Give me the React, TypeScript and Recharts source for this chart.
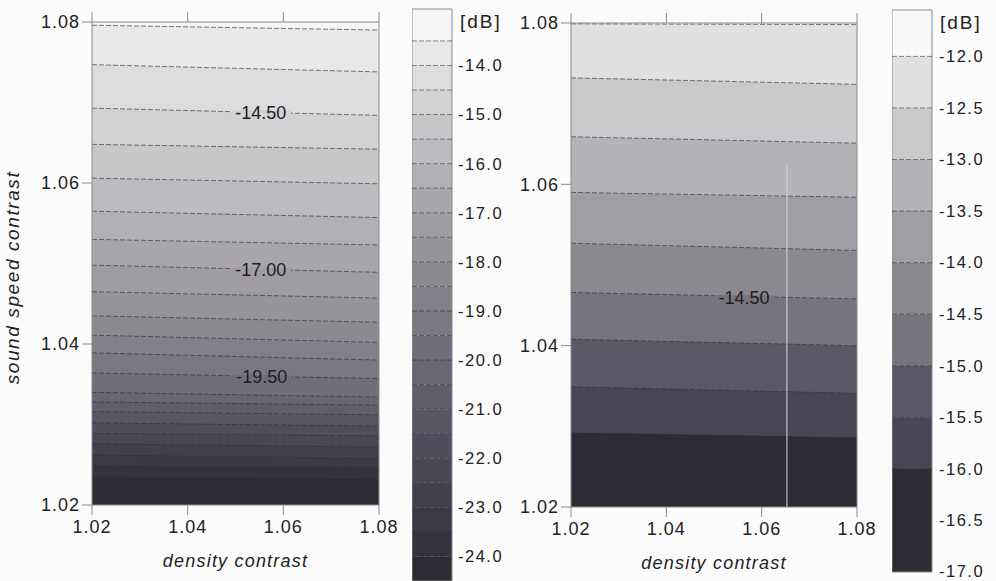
import {
  ComposedChart,
  Area,
  Scatter,
  XAxis,
  YAxis,
  CartesianGrid,
  ReferenceArea,
  ReferenceLine,
} from "recharts";

// axes of both contour panels
const densityEdges = [1.02, 1.08];
const axisTicks = [1.02, 1.04, 1.06, 1.08];

// left panel: contour levels [dB] and sound speed where each crosses the plot edges
const leftLevels = [
  -13.5, -14.0, -14.5, -15.0, -15.5, -16.0, -16.5, -17.0, -17.5, -18.0, -18.5,
  -19.0, -19.5, -20.0, -20.5, -21.0, -21.5, -22.0, -22.5, -23.0, -23.5, -24.0,
];
const leftAtLowDensity = [
  1.0796, 1.0747, 1.0693, 1.0648, 1.0606, 1.0565, 1.053, 1.0498, 1.0465, 1.0435,
  1.0411, 1.0389, 1.0364, 1.034, 1.0328, 1.0316, 1.0302, 1.0289, 1.0276, 1.0262,
  1.0248, 1.0235,
];
const leftAtHighDensity = [
  1.079, 1.0738, 1.0684, 1.0642, 1.0599, 1.0557, 1.0523, 1.0489, 1.0457, 1.0427,
  1.0402, 1.038, 1.0357, 1.0334, 1.0324, 1.0312, 1.0298, 1.0286, 1.0272, 1.0258,
  1.0246, 1.0232,
];
const leftContourLabels = [
  { density: 1.0553, speed: 1.0688, level: -14.5, text: "-14.50" },
  { density: 1.0553, speed: 1.0492, level: -17.0, text: "-17.00" },
  { density: 1.0555, speed: 1.0359, level: -19.5, text: "-19.50" },
];
const leftBarTicks = [-14, -15, -16, -17, -18, -19, -20, -21, -22, -23, -24];
const leftBarRange = [-24.5, -12.85];

// right panel
const rightLevels = [-12.0, -12.5, -13.0, -13.5, -14.0, -14.5, -15.0, -15.5, -16.0];
const rightAtLowDensity = [1.0799, 1.0732, 1.0659, 1.059, 1.0527, 1.0466, 1.0408, 1.0349, 1.0292];
const rightAtHighDensity = [1.0798, 1.0724, 1.0651, 1.0584, 1.0518, 1.0458, 1.04, 1.0341, 1.0286];
const rightContourLabels = [{ density: 1.0563, speed: 1.046, level: -14.5, text: "-14.50" }];
const rightBarTicks = [-12, -12.5, -13, -13.5, -14, -14.5, -15, -15.5, -16, -16.5, -17];
const rightBarRange = [-17.0, -11.55];

// grey shades, lightest band first
const leftPalette = [
  "#f5f5f5", "#e9e9ea", "#dddcde", "#d2d1d3", "#c7c6c9", "#bcbbbf", "#b2b0b5",
  "#a8a6ac", "#9f9ca3", "#96939a", "#8d8991", "#848089", "#7b7781", "#726e79",
  "#696571", "#615d69", "#595561", "#514d5a", "#4a4652", "#433f4b", "#3c3844",
  "#35323d", "#2e2b35",
];
const rightPalette = [
  "#f8f8f8", "#e0e0e1", "#cac9cc", "#b4b3b7", "#a09ea4", "#8b8890", "#78747e",
  "#5c5764", "#4a4552", "#2f2b34",
];

const FONT = '"Liberation Sans", Arial, Helvetica, sans-serif';
const AXIS = "#8a8a8a";
const LINE = "#312d37";

function buildRows(low: number[], high: number[]) {
  return densityEdges.map((d, i) => {
    const row: Record<string, number> = { density: d };
    (i === 0 ? low : high).forEach((v, k) => {
      row[`c${k}`] = v;
    });
    return row;
  });
}

function ContourPanel({
  levels,
  low,
  high,
  palette,
  labels,
  width,
  top,
  bottomAxis,
  showYTitle,
  artifact,
}: {
  levels: number[];
  low: number[];
  high: number[];
  palette: string[];
  labels: { density: number; speed: number; level: number; text: string }[];
  width: number;
  top: number;
  bottomAxis: number;
  showYTitle: boolean;
  artifact?: number;
}) {
  const rows = buildRows(low, high);
  const bandAt = (level: number) => palette[levels.indexOf(level) + 1];
  return (
    <ComposedChart
      width={width}
      height={581}
      data={rows}
      margin={{ top, right: 9, bottom: 0, left: 0 }}
    >
      <CartesianGrid horizontal={false} vertical={false} fill={palette[0]} fillOpacity={1} />
      <XAxis
        dataKey="density"
        type="number"
        domain={[1.02, 1.08]}
        ticks={axisTicks}
        allowDataOverflow
        tickFormatter={(v: number) => v.toFixed(2)}
        height={bottomAxis}
        tickSize={10}
        tickMargin={5}
        stroke={AXIS}
        tick={{ fill: "#222", fontSize: 18, fontFamily: FONT, letterSpacing: 1 }}
        label={{
          content: (p: any) => (
            <text
              x={p.viewBox.x + p.viewBox.width / 2}
              y={p.viewBox.y + 62}
              textAnchor="middle"
              fontFamily={FONT}
              fontSize={18}
              fontStyle="italic"
              letterSpacing={1.2}
              fill="#222"
            >
              density contrast
            </text>
          ),
        }}
      />
      <XAxis
        xAxisId="top"
        orientation="top"
        dataKey="density"
        type="number"
        domain={[1.02, 1.08]}
        ticks={axisTicks}
        allowDataOverflow
        tickFormatter={() => ""}
        height={12}
        tickSize={10}
        stroke={AXIS}
      />
      <YAxis
        type="number"
        domain={[1.02, 1.08]}
        ticks={axisTicks}
        allowDataOverflow
        tickFormatter={(v: number) => v.toFixed(2)}
        width={92}
        tickSize={10}
        tickMargin={2}
        stroke={AXIS}
        tick={{ fill: "#222", fontSize: 18, fontFamily: FONT, letterSpacing: 1 }}
        label={
          showYTitle
            ? {
                content: (p: any) => {
                  const cx = p.viewBox.x + 19;
                  const cy = p.viewBox.y + p.viewBox.height / 2 + 14;
                  return (
                    <text
                      x={cx}
                      y={cy}
                      transform={`rotate(-90 ${cx} ${cy})`}
                      textAnchor="middle"
                      fontFamily={FONT}
                      fontSize={19}
                      fontStyle="italic"
                      letterSpacing={1.6}
                      fill="#222"
                    >
                      sound speed contrast
                    </text>
                  );
                },
              }
            : undefined
        }
      />
      <YAxis
        yAxisId="right"
        orientation="right"
        type="number"
        domain={[1.02, 1.08]}
        ticks={axisTicks}
        tickFormatter={() => ""}
        width={12}
        tickSize={10}
        stroke={AXIS}
      />
      {levels.map((lv, k) => (
        <Area
          key={lv}
          dataKey={`c${k}`}
          type="linear"
          baseValue={1.02}
          fill={palette[k + 1]}
          fillOpacity={1}
          stroke={LINE}
          strokeWidth={0.8}
          strokeDasharray="5 2"
          strokeOpacity={0.8}
          dot={false}
          activeDot={false}
          isAnimationActive={false}
        />
      ))}
      {artifact !== undefined && (
        <ReferenceLine
          segment={[
            { x: artifact, y: 1.02 },
            { x: artifact, y: 1.0625 },
          ]}
          stroke="#d9d7dd"
          strokeWidth={1}
        />
      )}
      <Scatter
        data={labels}
        dataKey="speed"
        isAnimationActive={false}
        shape={(p: any) => (
          <g>
            <rect x={p.cx - 30} y={p.cy - 2} width={60} height={4} fill={bandAt(p.payload.level)} />
            <text
              x={p.cx}
              y={p.cy}
              dy="0.36em"
              textAnchor="middle"
              fontFamily={FONT}
              fontSize={18}
              fill="#1e1c22"
            >
              {p.payload.text}
            </text>
          </g>
        )}
      />
    </ComposedChart>
  );
}

function ColorBar({
  levels,
  palette,
  range,
  ticks,
  width,
  axisWidth,
  top,
  bottom,
  tickMargin,
}: {
  levels: number[];
  palette: string[];
  range: number[];
  ticks: number[];
  width: number;
  axisWidth: number;
  top: number;
  bottom: number;
  tickMargin: number;
}) {
  const edges = [range[1], ...levels, range[0]];
  return (
    <ComposedChart
      width={width}
      height={581}
      data={[{ b: 0 }, { b: 1 }]}
      margin={{ top, right: 0, bottom, left: 0 }}
    >
      <XAxis dataKey="b" type="number" domain={[0, 1]} hide />
      <YAxis
        orientation="right"
        type="number"
        domain={[range[0], range[1]]}
        ticks={ticks}
        allowDataOverflow
        width={axisWidth}
        tickSize={0}
        tickMargin={tickMargin}
        axisLine={false}
        tickLine={false}
        tickFormatter={(v: number) => v.toFixed(1)}
        tick={{ fill: "#222", fontSize: 16.5, fontFamily: FONT, letterSpacing: 1.5 }}
        label={{
          content: (p: any) => (
            <text
              x={p.viewBox.x + 8}
              y={p.viewBox.y + 19}
              fontFamily={FONT}
              fontSize={19}
              letterSpacing={2}
              fill="#222"
            >
              [dB]
            </text>
          ),
        }}
      />
      {edges.slice(0, -1).map((e, i) => (
        <ReferenceArea
          key={`band${i}`}
          y1={edges[i + 1]}
          y2={e}
          fill={palette[Math.min(i, palette.length - 1)]}
          fillOpacity={1}
          stroke="none"
          ifOverflow="hidden"
        />
      ))}
      {levels.map((lv) => (
        <ReferenceLine key={`l${lv}`} y={lv} stroke={LINE} strokeWidth={0.8} strokeDasharray="5 2" strokeOpacity={0.7} />
      ))}
      <ReferenceArea y1={range[0]} y2={range[1]} fill="none" stroke="#8a8a8a" strokeWidth={1} />
    </ComposedChart>
  );
}

export default function App() {
  return (
    <div
      style={{
        position: "absolute",
        left: 0,
        top: 0,
        width: 996,
        height: 581,
        overflow: "hidden",
        background: "#fbfbfb",
      }}
    >
      <div style={{ position: "absolute", left: 0, top: 0 }}>
        <ContourPanel
          levels={leftLevels}
          low={leftAtLowDensity}
          high={leftAtHighDensity}
          palette={leftPalette}
          labels={leftContourLabels}
          width={400}
          top={10}
          bottomAxis={76}
          showYTitle
        />
      </div>
      <div style={{ position: "absolute", left: 412, top: 0 }}>
        <ColorBar
          levels={leftLevels}
          palette={leftPalette}
          range={leftBarRange}
          ticks={leftBarTicks}
          width={100}
          axisWidth={60}
          top={9}
          bottom={0}
          tickMargin={6}
        />
      </div>
      <div style={{ position: "absolute", left: 479, top: 0 }}>
        <ContourPanel
          levels={rightLevels}
          low={rightAtLowDensity}
          high={rightAtHighDensity}
          palette={rightPalette}
          labels={rightContourLabels}
          width={399}
          top={11}
          bottomAxis={74}
          showYTitle={false}
          artifact={1.0653}
        />
      </div>
      <div style={{ position: "absolute", left: 892, top: 0 }}>
        <ColorBar
          levels={rightLevels}
          palette={rightPalette}
          range={rightBarRange}
          ticks={rightBarTicks}
          width={104}
          axisWidth={64}
          top={10}
          bottom={9}
          tickMargin={7}
        />
      </div>
    </div>
  );
}
